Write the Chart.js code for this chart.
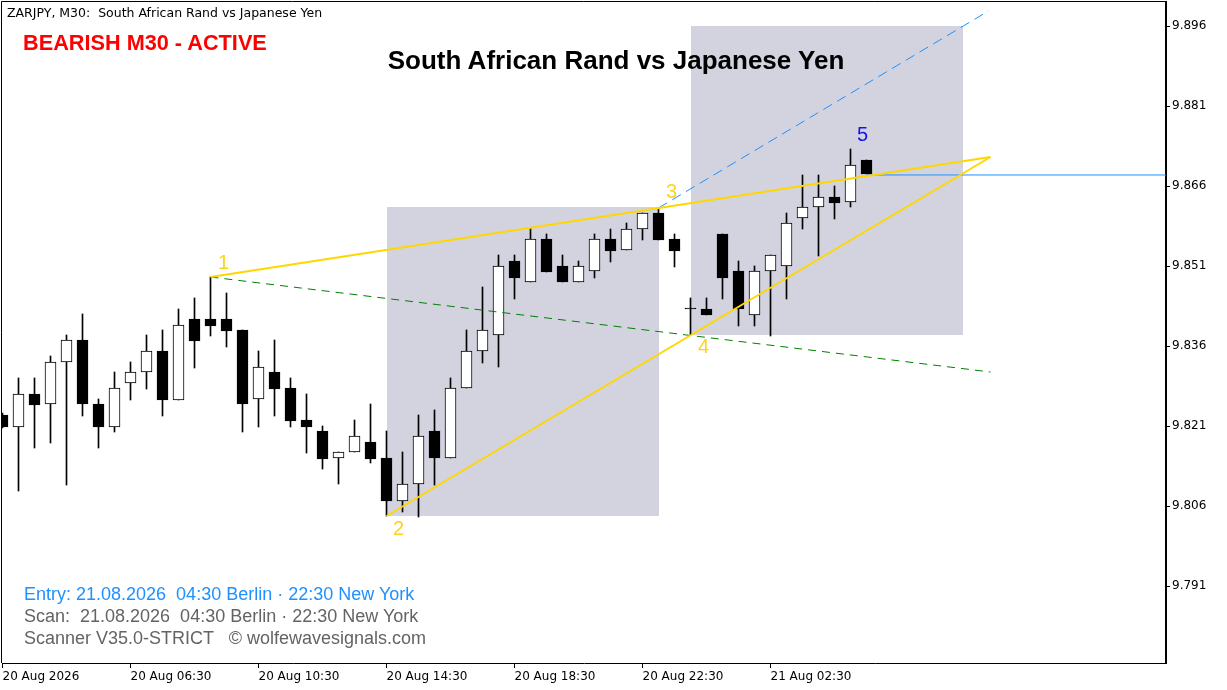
<!DOCTYPE html>
<html><head><meta charset="utf-8">
<script src="https://cdn.jsdelivr.net/npm/chart.js@4.4.1/dist/chart.umd.min.js"></script>
<style>
html,body{margin:0;padding:0;background:#fff;}
#wrap{position:relative;width:1227px;height:690px;overflow:hidden;background:#fff;}
canvas{position:absolute;left:0;top:0;}
.t{position:absolute;white-space:pre;line-height:1;}
</style></head><body>
<div id="wrap">
<canvas id="c" width="1227" height="690"></canvas>
<div class="t" style="left:7px;top:5px;font:12.5px 'DejaVu Sans';color:#000;">ZARJPY, M30:  South African Rand vs Japanese Yen</div>
<div class="t" style="left:23px;top:30px;font:bold 21.7px 'Liberation Sans';color:#ff0000;">BEARISH M30 - ACTIVE</div>
<div class="t" style="left:616px;top:45px;transform:translateX(-50%);font:bold 26px 'Liberation Sans';color:#000;">South African Rand vs Japanese Yen</div>
<div class="t" style="left:24px;top:584px;font:18px 'Liberation Sans';color:#1e90ff;">Entry: 21.08.2026  04:30 Berlin · 22:30 New York</div>
<div class="t" style="left:24px;top:606px;font:18px 'Liberation Sans';color:#646464;">Scan:  21.08.2026  04:30 Berlin · 22:30 New York</div>
<div class="t" style="left:24px;top:628px;font:18px 'Liberation Sans';color:#646464;">Scanner V35.0-STRICT   © wolfewavesignals.com</div>
</div>
<script>
// ---- data ----
const opens  = [9.82307,9.82082,9.82701,9.82513,9.83301,9.83713,9.82513,9.82082,9.82907,9.83113,9.83507,9.82588,9.84107,9.84107,9.84107,9.83901,9.82607,9.83113,9.82813,9.82213,9.82007,9.81501,9.81613,9.81801,9.81501,9.80694,9.81013,9.82007,9.81501,9.82813,9.83507,9.83807,9.85194,9.84801,9.85607,9.85101,9.84801,9.85007,9.85607,9.85401,9.85794,9.86094,9.85607,9.84294,9.84294,9.85701,9.85007,9.84182,9.85007,9.85101,9.86001,9.86207,9.86394,9.86301,9.87088];
const highs  = [9.82344,9.83001,9.83001,9.83413,9.83807,9.84201,9.82607,9.83113,9.83301,9.83807,9.83901,9.84294,9.84501,9.84894,9.84594,9.83901,9.83507,9.83713,9.83001,9.82701,9.82101,9.81613,9.82213,9.82513,9.82007,9.81613,9.82307,9.82401,9.83001,9.83901,9.84707,9.85307,9.85307,9.85813,9.85701,9.85307,9.85194,9.85701,9.85794,9.85907,9.86094,9.86188,9.85701,9.84501,9.84501,9.85701,9.85194,9.85101,9.85307,9.86094,9.86807,9.86807,9.86601,9.87294,9.87088];
const lows   = [9.82063,9.80882,9.81688,9.81782,9.80994,9.82288,9.81688,9.81988,9.82588,9.82794,9.82288,9.82588,9.83188,9.83788,9.83582,9.81988,9.82082,9.82288,9.82082,9.81594,9.81294,9.81013,9.81613,9.81407,9.80413,9.80488,9.80394,9.80994,9.81501,9.82813,9.83282,9.83207,9.84482,9.84801,9.84988,9.84801,9.84801,9.84876,9.85176,9.85401,9.85588,9.85588,9.85082,9.83807,9.84182,9.84482,9.83976,9.83976,9.83788,9.84482,9.85794,9.85288,9.85982,9.86207,9.86826];
const closes = [9.82082,9.82701,9.82494,9.83301,9.83713,9.82513,9.82082,9.82813,9.83113,9.83507,9.82588,9.83994,9.83694,9.83976,9.83882,9.82513,9.83207,9.82794,9.82194,9.82082,9.81482,9.81613,9.81913,9.81482,9.80694,9.81013,9.81913,9.81501,9.82813,9.83507,9.83901,9.85101,9.84876,9.85607,9.84988,9.84801,9.85101,9.85607,9.85382,9.85794,9.86094,9.85588,9.85382,9.84294,9.84182,9.84876,9.84294,9.85007,9.85307,9.85907,9.86207,9.86394,9.86282,9.86994,9.86826];

const xTickValues = [0,8,16,24,32,40,48];
const xTickLabels = ['20 Aug 2026','20 Aug 06:30','20 Aug 10:30','20 Aug 14:30','20 Aug 18:30','20 Aug 22:30','21 Aug 02:30'];
const yTickValues = [9.791,9.806,9.821,9.836,9.851,9.866,9.881,9.896];

const pivotIdx    = [13,24,41,43,53];
const pivotPrice  = [9.84894,9.80413,9.86188,9.83807,9.87294];
const pivotLabels = ['1','2','3','4','5'];

const zoneStart  = [24,43];
const zoneEnd    = [41,60];
const zoneTop    = [9.86207,9.89600];
const zoneBottom = [9.80413,9.83807];

const targetIdx   = 61.75;
const targetPrice = 9.87144;   // apex of 1-3 / 2-4 lines
const greenEnd    = 9.83113;   // 1-4 line end
const blueEndIdx  = 61.625;
const blueEndPrice= 9.89882;
const lastPrice   = 9.86807;

// ---- build ----
const idx = opens.map((_,i)=>i);
const wickData = idx.map(i=>({x:i,y:[lows[i],highs[i]]}));
const bodyData = idx.map(i=>({x:i,y:[opens[i],closes[i]]}));
const bodyFill = idx.map(i=>closes[i]>opens[i]?'#ffffff':'#000000');

const XMIN = -0.03125, XMAX = 72.71875;

const zonePlugin = {
  id:'zones',
  beforeDatasetsDraw(chart){
    const {ctx, chartArea:a, scales:{x,y}} = chart;
    ctx.save();
    ctx.beginPath(); ctx.rect(a.left,a.top,a.right-a.left,a.bottom-a.top); ctx.clip();
    ctx.fillStyle = '#d3d3e0';
    for(let k=0;k<zoneStart.length;k++){
      const x0=x.getPixelForValue(zoneStart[k]), x1=x.getPixelForValue(zoneEnd[k]);
      const y0=y.getPixelForValue(zoneTop[k]), y1=y.getPixelForValue(zoneBottom[k]);
      ctx.fillRect(Math.round(x0),Math.round(y0),Math.round(x1-x0),Math.round(y1-y0));
    }
    ctx.restore();
  },
  afterDatasetsDraw(chart){
    const {ctx, chartArea:a, scales:{x,y}} = chart;
    ctx.save();
    ctx.font = '20px "Liberation Sans"';
    ctx.textAlign='center'; ctx.textBaseline='middle';
    const offs = [[13,-14],[12,13],[13,-16],[13,13],[12,-14]];
    for(let k=0;k<pivotIdx.length;k++){
      ctx.fillStyle = k===4 ? '#1414e6' : '#ffd21e';
      ctx.fillText(pivotLabels[k], x.getPixelForValue(pivotIdx[k])+offs[k][0], y.getPixelForValue(pivotPrice[k])+offs[k][1]);
    }
    ctx.strokeStyle='#000'; ctx.lineWidth=1;
    ctx.beginPath();
    ctx.moveTo(a.left-0.5,a.bottom); ctx.lineTo(a.left-0.5,a.top-0.5); ctx.lineTo(a.right,a.top-0.5);
    ctx.stroke();
    ctx.restore();
  }
};

new Chart(document.getElementById('c'),{
  type:'bar',
  data:{datasets:[
    {type:'line',label:'1-3',data:[{x:pivotIdx[0],y:pivotPrice[0]},{x:targetIdx,y:targetPrice}],borderColor:'#ffd700',borderWidth:2,pointRadius:0,order:1},
    {type:'line',label:'2-4',data:[{x:pivotIdx[1],y:pivotPrice[1]},{x:targetIdx,y:targetPrice}],borderColor:'#ffd700',borderWidth:2,pointRadius:0,order:1},
    {type:'line',label:'1-4',data:[{x:pivotIdx[0],y:pivotPrice[0]},{x:targetIdx,y:greenEnd}],borderColor:'#008000',borderWidth:1,borderDash:[8,6],pointRadius:0,order:2},
    {type:'line',label:'proj',data:[{x:pivotIdx[2],y:pivotPrice[2]},{x:blueEndIdx,y:blueEndPrice}],borderColor:'#1e90ff',borderWidth:1,borderDash:[10,6],pointRadius:0,order:2},
    {type:'line',label:'last',data:[{x:54,y:lastPrice},{x:XMAX+1,y:lastPrice}],borderColor:'#1e90ff',borderWidth:1,pointRadius:0,order:3},
    {label:'wick',data:wickData,backgroundColor:'#000',borderWidth:0,barThickness:1,grouped:false,order:5},
    {label:'body',data:bodyData,backgroundColor:bodyFill,borderColor:'#000',borderWidth:1,borderSkipped:false,barThickness:11,minBarLength:1,grouped:false,order:4}
  ]},
  options:{
    responsive:false, animation:false, devicePixelRatio:1,
    layout:{padding:{left:2,top:2,right:0,bottom:0}},
    plugins:{legend:{display:false},tooltip:{enabled:false},title:{display:false}},
    scales:{
      x:{type:'linear',min:XMIN,max:XMAX,offset:false,
        afterFit(s){s.height=27;s.paddingLeft=0;s.paddingRight=0;},
        afterBuildTicks(s){s.ticks=xTickValues.map(v=>({value:v}));},
        ticks:{callback:(v)=>{const k=xTickValues.indexOf(v);return k>=0?xTickLabels[k]:'';},align:'start',maxRotation:0,autoSkip:false,padding:2,color:'#000',font:{family:'DejaVu Sans',size:12}},
        grid:{drawOnChartArea:false,drawTicks:true,tickLength:5,color:'#000',offset:false},
        border:{display:true,color:'#000',width:1}},
      y:{type:'linear',position:'right',min:9.77657,max:9.90050,
        afterFit(s){s.width=61;s.paddingTop=0;s.paddingBottom=0;},
        afterBuildTicks(s){s.ticks=yTickValues.map(v=>({value:v}));},
        ticks:{callback:(v)=>Number(v).toFixed(3),padding:2,color:'#000',font:{family:'DejaVu Sans',size:12}},
        grid:{drawOnChartArea:false,drawTicks:true,tickLength:4,color:'#000'},
        border:{display:true,color:'#000',width:2}}
    }
  },
  plugins:[zonePlugin]
});
</script>
</body></html>
